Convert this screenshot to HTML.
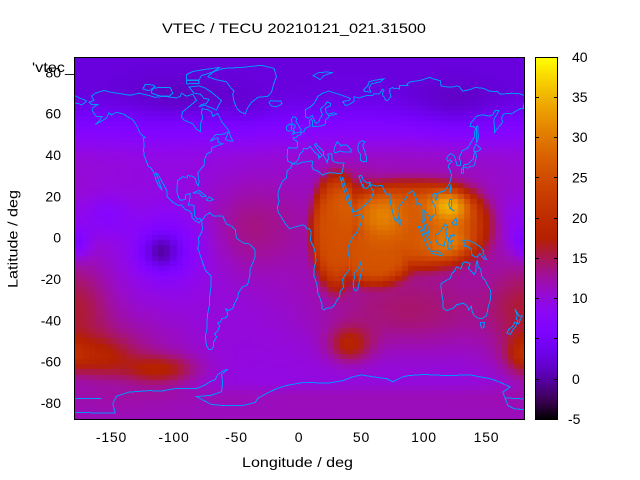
<!DOCTYPE html>
<html><head><meta charset="utf-8">
<style>
html,body{margin:0;padding:0;background:#fff;}
body{width:640px;height:480px;overflow:hidden;position:relative;}
#hm{position:absolute;left:74px;top:57px;background:#8a08ee;}
svg{position:absolute;left:0;top:0;}
.t{font-family:"Liberation Sans",Arial,sans-serif;font-size:14px;fill:#000;}
.c polyline{vector-effect:non-scaling-stroke;fill:none;stroke:#0096ff;stroke-width:1;}
</style></head><body>
<canvas id="hm" width="450" height="362"></canvas>
<svg width="640" height="480" xmlns="http://www.w3.org/2000/svg">
<defs>
<clipPath id="pc"><rect x="74" y="57" width="450" height="362"/></clipPath>
<linearGradient id="cb" x1="0" y1="0" x2="0" y2="1">
<stop offset="0" stop-color="rgb(255,255,0)"/>
<stop offset="0.05" stop-color="rgb(249,219,0)"/>
<stop offset="0.10" stop-color="rgb(242,186,0)"/>
<stop offset="0.15" stop-color="rgb(235,157,0)"/>
<stop offset="0.20" stop-color="rgb(228,131,0)"/>
<stop offset="0.25" stop-color="rgb(221,108,0)"/>
<stop offset="0.30" stop-color="rgb(213,87,0)"/>
<stop offset="0.35" stop-color="rgb(206,70,0)"/>
<stop offset="0.40" stop-color="rgb(198,55,0)"/>
<stop offset="0.45" stop-color="rgb(189,42,0)"/>
<stop offset="0.50" stop-color="rgb(180,32,0)"/>
<stop offset="0.55" stop-color="rgb(171,23,79)"/>
<stop offset="0.60" stop-color="rgb(161,16,150)"/>
<stop offset="0.65" stop-color="rgb(151,11,206)"/>
<stop offset="0.70" stop-color="rgb(140,7,243)"/>
<stop offset="0.75" stop-color="rgb(128,4,255)"/>
<stop offset="0.80" stop-color="rgb(114,2,243)"/>
<stop offset="0.85" stop-color="rgb(99,1,206)"/>
<stop offset="0.90" stop-color="rgb(81,0,150)"/>
<stop offset="0.95" stop-color="rgb(57,0,79)"/>
<stop offset="1" stop-color="rgb(0,0,0)"/>
</linearGradient>
</defs>

<g clip-path="url(#pc)" shape-rendering="crispEdges">
<g class="c" transform="matrix(1.25,0,0,-2.0686,299,238)">
<polyline points="-166,68.5 -163,70 -156,71.3 -150,70.4 -141,69.6 -135,69 -128,70 -120,68.9 -115,68 -108,68.5 -98,67.7 -95,68.5 -94,70 -90,68.5 -85,69.5 -82,66.5 -87,64 -93,61 -94,58.7 -92,57 -85,55.2 -82,52.5 -79,51.5 -79,55 -77,58 -78,60.5 -77.5,62.5 -73,62 -70,61 -69,58.8 -65,60.2 -61.5,56 -57,52.5 -56,51.5 -60,50.2 -66.5,50 -71,46.8 -65,48.5 -64.5,46.2 -61,45.5 -66,44.5 -70,43.5 -70,41.8 -74,40.5 -75.5,38 -76,35 -78,33.8 -81,31.5 -80,27 -80.5,25.2 -82,26.5 -83,29 -85,29.8 -89,30.2 -89.5,29 -93,29.7 -97,27.8 -97.5,25 -97.5,22 -96,19 -94.5,18.2 -91,18.7 -90.5,21 -87,21.5 -87.5,18 -88.5,16 -84,15.8 -83.5,11 -81.5,9 -79.5,9.5 -77.5,8.5 -75,10.8 -71.5,12.3 -70,11.5 -68,10.5 -64,10.7 -61,10.5 -58,6.8 -54,5.7 -51,4 -50,0 -48,-1 -44,-2.5 -40,-2.8 -35.5,-5.3 -35,-9 -37,-12 -39,-15 -39.3,-18 -40.5,-21.5 -42,-23 -45,-23.5 -48.5,-26.5 -48.8,-28.5 -51,-31 -53,-34 -56,-35 -58.5,-34.3 -57,-36.5 -58,-38.5 -62,-39 -62.5,-40.5 -65,-41 -63.5,-42.5 -65,-45 -67.5,-46.3 -65.8,-47.8 -68.5,-50.5 -68.5,-52.5 -70,-54 -72,-54 -74,-52 -75,-48 -73.7,-44 -73.5,-40 -73.2,-37 -71.5,-32 -71.4,-28 -70.5,-23.5 -70.2,-18.5 -75,-15.5 -77,-12 -79.5,-7.5 -81,-5 -80,-2 -80.5,0 -78.5,2 -77.3,4 -77.5,7 -78.5,8.5 -80,7.3 -83,8.3 -85.7,10 -85.7,11.5 -87.5,13 -91.5,14 -94,16 -96.5,15.7 -101,17.3 -105.5,20 -105.5,22.5 -108,25.5 -112.5,30.5 -114.8,31.7 -113,29 -110,24 -109.5,23.2 -112,25 -114.5,28 -115.2,30 -117,32.5 -118.5,34 -120.6,34.6 -122,37 -123.8,39.8 -124.3,42 -124,46 -124.7,48.4 -123,48.5 -127,50.5 -130,54.5 -133.5,57.5 -137,58.5 -140,59.8 -146,60.8 -150,59.5 -152,60.5 -154,58 -158,56.5 -163,54.8 -160,56.5 -157.5,58.8 -162,58.8 -164.5,60.5 -165.5,62 -164.5,63.2 -161,64.5 -166,64.6 -168,65.6 -164,66.5 -166,68.5"/>
<polyline points="-73,78 -68,80.5 -60,82 -45,82.5 -30,83.5 -20,82 -18,78 -20,75 -22,70.5 -25,68.5 -33,68 -38,65.5 -41,63 -43,60 -47,61 -50,63 -52,66 -53,69.5 -52,71 -55,73 -58,75.5 -66,76.5 -73,78"/>
<polyline points="-80,63.5 -75,64.2 -66,61.8 -64,64.5 -62,66.5 -67,69 -70,70.5 -75,72.5 -80,73.5 -88,73 -84,70 -79,69.5 -76,67.5 -72,67 -74,65 -78,64.5 -80,63.5"/>
<polyline points="-118,70 -112,68.8 -104,68.5 -101,70 -103,72.8 -110,72.8 -116,72.5 -118,71 -118,70"/>
<polyline points="-80,76.5 -90,76.5 -90,79 -85,80.5 -75,81.5 -63,82.5 -70,80 -78,78.5 -80,76.5"/>
<polyline points="-125,72 -123,74.3 -117,74 -115,73.2 -120,71.2 -125,72"/>
<polyline points="-90,74.5 -80,74.8 -80,76 -90,76.2 -90,74.5"/>
<polyline points="-59,47.6 -56,51.6 -55,49.5 -53,47 -56,47 -59,47.6"/>
<polyline points="-85,21.8 -80,23 -77,21.5 -74.2,20.2 -77.5,19.9 -80,21.8 -85,21.8"/>
<polyline points="-74.4,18.4 -72,19.9 -68.5,18.6 -71.5,17.8 -74.4,18.4"/>
<polyline points="-9,43 -9.5,39 -8.8,37 -6,36.5 -5,36 -2,36.8 0,38.8 0.5,40.5 3.2,42 3.5,43.3 6.5,43.1 9,44.3 10.5,43 12.5,41.5 15.5,40 16,38 15.7,40 17,39 18.5,40 17,41 13.5,44 12.3,45.3 13.7,45.7 15,44.5 19.5,41.8 19.5,40 21,38.5 22.5,36.5 23,38 24,38.2 23,40.5 26,40.8 26.5,40 26.3,38.5 27.5,37 28.5,36.7 32,36.2 35.9,36.2 35,33 34.3,31.3 32.3,31.2 30,31.3 25,31.6 20,30.9 19,30.3 15.2,32.3 11.5,33.1 10.3,34.5 11,37 9.8,37.3 8,36.9 3,36.8 -1,35.7 -5.5,35.8 -6.5,34 -9.5,32.5 -10,29 -13,27.6 -16,23.5 -17,21 -16,18 -17.2,14.8 -16.7,12.5 -15,11 -13.5,9.5 -11,7 -7.5,4.4 -4,5.2 1,6 3,6.3 5,5.8 6.5,4.3 8.5,4.5 9.6,3 9.5,1 9,-1 11,-3.5 12,-5 13,-7 13.5,-11 12,-15 11.8,-18 14.4,-22.5 15,-26.5 16.5,-28.6 18.2,-31.5 18.4,-34 20,-34.8 22.5,-33.9 25.8,-33.8 28,-32.7 30.5,-30 32.5,-28.5 32.8,-26 35.5,-24 35.3,-22 34.8,-20 36.8,-18 40.5,-15 40.6,-10.5 39.3,-7 39.2,-4.6 41,-2 43.5,0.8 46,2.5 49,6 51,10.5 49,11.3 44,10.5 43.3,12 42,15 40.5,16 38.5,18 37.3,21 35.5,24 34,27 32.6,29.9 33.5,28 34.3,27.8 34.9,29.5 36.5,26 39,21.5 41.5,16.5 43,13 45,12.8 49,14 52,15.5 55,17.3 57.8,19 59.8,22.5 58.5,23.6 56.4,26.2 56,24.8 54,24 51.6,24.2 51.2,26 50.8,25 50.2,26 48.5,29 48,30 50,30.2 51.5,27.9 54.7,26.5 56.5,27.1 57.3,25.8 61.5,25.1 66.5,25.4 67.5,24 68.8,22.3 70.5,21 72.8,21.3 72.8,19 73.5,16 74.8,12.8 76.3,9.5 77.5,8 78.3,8.9 79.9,10.3 80.3,13 80,15.1 82,16.5 84,18.3 86.5,20 87,21.5 89,22 90.5,22.8 91.8,22.2 92.7,20.5 94.5,18 94.3,16 96,16.8 97.6,16 98.5,13.1 98.3,10.5 98.5,8 100.3,6 100.8,3.5 103.5,1.3 104.2,1.4 103.4,3.5 103.3,5.5 101.4,6.9 100,9.5 100,13.3 101,12.7 102.5,12 103,11 104.7,10.5 105,8.6 106.7,10.3 109,11.5 109.4,13 108.8,15.5 106.6,17.5 105.7,19 106.7,20.7 108,21.5 109.8,21.4 110.5,20.4 111,21.5 113.2,22.2 116,22.8 118.6,24.5 120,26 121.5,28.3 122,30.5 121,32.5 119.3,34.5 120.7,36.2 122.5,37 121,37.8 119,37.1 118,38.5 119.5,39.8 121.5,40.9 124,39.8 125.3,37.8 126.5,35 129,35.1 129.4,37 128,38.5 129.7,41 130.8,42.3 133,42.8 135.5,43.9 138.2,46.8 140.3,48.8 140.5,51.2 141.4,53 139,54 137,54 137.3,55.4 141.5,58.6 143.5,59.3 148,59.4 152,59 155,59.5 157,61.7 160,61.5 156,57.5 156.5,51 158.5,52.8 161.8,55 163,56.2 162,57.8 163.5,59.8 166,60.3 170,60 172.5,61 177,62.5 179.5,62.6 180,65.3"/>
<polyline points="180,68.9 176,69.8 170,70 161,69.5 159,70.8 152,71 148,72.3 141,72.8 136,71.6 131,71 129,72.5 128.5,73.2 126,73.5 123,73 119,73 113.5,73.5 113.3,76 107,77 104.5,77.7 99,76.5 95,76 89,75.5 86.5,74.5 87,73.8 80.5,73.6 80.5,72 78,72.4 75.6,72.3 75,72.8 72.8,72.2 72.5,71 73.5,68.4 71,66.5 69,66.7 68.5,68 67,68.8 66.7,70 68,71.3 67,72 64,69.5 60.5,69.8 58.5,68.8 53.7,68.8 48,67.7 44,68.3 44,66 40,64.5 37,64 35,66 40,66.5 41,67.5 38,68.2 33,69.3 29,70 24,71 19,70 15,68.5 14,67 12.5,65.5 10.5,64 8,63 5,62 5,60 5.5,58.5 7,58 8.5,58.2 10.5,59.3 11,58.8 11.8,57.5 12.8,56 14.1,55.4 16,56.2 16.5,57.4 18.8,59.6 17.8,61 17.2,62.3 21,64.5 22.5,65.8 25.3,65.1 25.3,64 21.3,62.8 21.5,61 23,59.8 28,60.5 30,60 28,59.5 23.5,59.2 24,58.3 22,57.5 21,56.8 21.2,55.2 19.5,54.4 14.2,53.9 11,54 10.9,56.4 9.8,57.6 8.2,56.8 8.5,55.5 8.9,54 7,53.5 5,53 4,51.5 2,51 1.5,50 -1.2,49.4 -1.9,48.7 -4.6,48.6 -4.3,47.8 -2,47 -1.2,46 -1.4,44 -1.8,43.4 -4,43.4 -8,43.7 -9,43"/>
<polyline points="-180,65.3 -176,64.9 -174,64.3 -172.5,65 -171,65.5 -170,66.2 -172,66.9 -175,67.5 -178,68.4 -180,68.9"/>
<polyline points="28,41.5 29,41.2 33,42 36,41.6 41.5,41.5 41.7,42.6 39,44.6 37.5,45 35,45 33.5,44.5 32.5,45.4 30.5,46.5 29.6,45.3 28.7,44.3 28,42.5 28,41.5"/>
<polyline points="47,43 48,41.5 49.5,40.2 49,38.5 49,37.6 51.5,36.8 54,37 53.9,39.5 53,40.8 52.8,41.8 51,44.5 51.5,45.5 53,46.5 51,47 49,46.5 47.5,45.5 47,43"/>
<polyline points="-5.7,50 -3,50.7 1.3,51.2 1.7,52.7 0.3,53.4 -0.2,54.5 -1.6,55.6 -2.5,56.3 -1.8,57.6 -3.1,58.6 -5,58.6 -6.2,57 -5.5,55.5 -4.8,54.8 -3.3,54.6 -3,53.3 -4.5,53.2 -4.3,52.3 -5.2,51.7 -3.5,51.4 -5.7,50"/>
<polyline points="-6,52.2 -6.2,53.9 -5.7,54.6 -7.3,55.3 -8.5,54.6 -10,54 -10,52.2 -8,51.6 -6,52.2"/>
<polyline points="-22.5,64 -24,65.5 -22.5,66.4 -17,66.2 -14.5,66.2 -13.7,65 -15,64.3 -18.7,63.4 -22.5,64"/>
<polyline points="11,78.5 16,80 22,80.2 27,80 20,78.5 17,76.6 13,78 11,78.5"/>
<polyline points="51.5,71.5 55,73.5 56,75.5 61,76.3 68,77 65,75.5 58,74.5 56,72.5 57.5,70.6 53,70.8 51.5,71.5"/>
<polyline points="130.9,33.9 132,35.4 135.5,35.7 137,37 139.5,38.2 140,40.5 141.3,41.3 142,39.5 141,37 140.8,35.7 139.5,34.8 137,34.6 135,33.7 133,34.3 130.9,33.9"/>
<polyline points="129.8,33.3 131.7,33.6 131.4,31.4 130.2,31.2 129.8,33.3"/>
<polyline points="140,41.5 140,43.2 141.5,45.4 143,44.5 145.5,43.3 143.5,42 141,41.8 140,41.5"/>
<polyline points="142,46 142,49 142.2,54 143,54.2 143.5,49 142.8,46.8 142,46"/>
<polyline points="120.2,22.5 121.5,25.3 121.9,24.5 120.8,22 120.2,22.5"/>
<polyline points="108.7,19.5 110.5,20.1 111,19.5 109.5,18.2 108.7,19.5"/>
<polyline points="79.8,8 80.2,9.8 81.8,7.5 80.5,6 79.8,8"/>
<polyline points="44,-25 43.3,-22 44.4,-19 44,-17 46.3,-15.8 48,-14 49.3,-12 50.5,-15.5 49.5,-17.5 48.5,-20.5 47,-25 45,-25.5 44,-25"/>
<polyline points="95.3,5.5 97.5,5.2 100.5,2 104,-1 106,-3.1 105.8,-5.8 104.5,-5.9 102.5,-4 100.1,-0.6 98.6,1.8 95.3,5.5"/>
<polyline points="105.2,-6.8 108.5,-6.4 111,-6.4 112.6,-6.9 114.5,-7.8 114.5,-8.7 110.5,-8.1 106.5,-7.4 105.2,-6.8"/>
<polyline points="109,1.5 111,1.8 113,3.2 115.5,5.4 117,7 119,5.3 118,4.3 117.5,3 118.5,1 117.5,-0.5 116.5,-2.5 116,-4 114.5,-3.5 111.5,-3 110,-1.7 109,0 109,1.5"/>
<polyline points="119.5,-5.5 119,-3.5 119.8,0 120.9,1.3 124.8,1.5 121,0.4 120,-1 121.5,-1.9 123.3,-1 121.3,-2.5 122.5,-4.7 120.5,-5.5 119.5,-5.5"/>
<polyline points="120.6,18.5 122.2,18.5 122,16 121.6,14.3 124,13 123,13.5 120.8,14.3 119.9,16 120.6,18.5"/>
<polyline points="122,7 124,8.2 125.5,9.7 126.5,7 125.5,6 124,6.5 122,7"/>
<polyline points="131,-1.3 134,-1 138,-1.7 141,-2.6 145,-4.3 147.6,-6 147.2,-7.4 150,-10.3 148,-10.1 144.7,-7.6 142.5,-9.3 141,-9.1 138.5,-8.4 137.5,-5 134,-3.9 132.4,-4 133,-2.5 131,-1.3"/>
<polyline points="113.4,-22 114,-26 115,-30 115,-33.7 117.8,-35.1 123.6,-33.9 126,-32.3 131.3,-31.5 134.3,-32.7 135.9,-34.8 137.8,-32.9 138.5,-35.5 140,-37.4 143.5,-38.8 146.3,-39 150,-37.5 151.5,-33 153,-30 153.5,-27 153,-25 150.5,-22.5 149,-20.5 146.3,-18.8 145.3,-15 143.5,-14 142.5,-10.7 141.7,-13 141.5,-16 140,-17.7 137.8,-16 135.5,-14.7 136.8,-12.3 132.6,-11.5 131,-12.2 129.5,-14.9 126,-14 124,-16.3 122.2,-17.2 121,-19.5 117.3,-20.7 114.6,-21.8 113.4,-22"/>
<polyline points="145,-40.8 148.3,-40.9 148,-43.2 146.5,-43.6 145,-42 145,-40.8"/>
<polyline points="172.7,-34.4 174.6,-36.2 176,-37.6 178.5,-37.7 177,-39.3 176,-41.3 174.6,-41.3 175,-39.8 173.8,-39.2 174.6,-37.3 172.7,-34.4"/>
<polyline points="172.8,-40.5 174.3,-41.3 173.2,-43 171,-44.5 169,-46.6 166.5,-46 167.7,-44.2 170.6,-43 172.8,-40.5"/>
<polyline points="-180,-84.4 -147,-84.6 -149,-80 -146,-76.5 -136,-74.5 -120,-73.8 -110,-74 -98,-72.7 -82,-72.8 -75,-71 -71,-69.4 -67,-68.5 -65,-66 -60,-64 -57,-63.5 -62,-66 -61,-70 -62,-74.3 -70,-76 -82,-76.7 -70,-80.5 -60,-81 -45,-81 -35,-79.5 -33,-77.5 -27,-75.5 -18,-72.8 -10,-71.3 3.5,-69.8 15,-70 25,-70 35,-69 43.5,-67 50,-66.2 60,-67.2 70,-68 75,-69.5 83.5,-67 88,-66.5 100,-66 118,-66.5 137,-66.2 142,-66.8 153,-68 160,-69.5 169,-72 163,-74.5 165,-77.5 167,-81 172,-82.5 180,-83"/>
<polyline points="-180,-77.5 -158,-77.5"/>
<polyline points="165,-77.3 180,-77.8"/>
</g>
</g>

<rect x="74.5" y="57.5" width="450" height="362" fill="none" stroke="#000" stroke-width="1"/>

<rect x="535.5" y="57.5" width="22" height="362" fill="url(#cb)" stroke="#000" stroke-width="1"/>
<g stroke="#000" stroke-width="1">
<path d="M536 97.5h3M554 97.5h3M536 137.5h3M554 137.5h3M536 177.5h3M554 177.5h3M536 218.5h3M554 218.5h3M536 258.5h3M554 258.5h3M536 298.5h3M554 298.5h3M536 338.5h3M554 338.5h3M536 379.5h3M554 379.5h3"/>
</g>

<text class="t" x="162" y="33" textLength="264" lengthAdjust="spacingAndGlyphs">VTEC / TECU 20210121_021.31500</text>

<text class="t" x="32" y="72" textLength="42" lengthAdjust="spacingAndGlyphs">'vtec_</text>

<g class="t" text-anchor="end">
<text x="61" y="77.5">80</text>
<text x="61" y="118.5">60</text>
<text x="61" y="160">40</text>
<text x="61" y="201.5">20</text>
<text x="61" y="242.5">0</text>
<text x="61" y="284">-20</text>
<text x="61" y="325.5">-40</text>
<text x="61" y="366.5">-60</text>
<text x="61" y="408">-80</text>
</g>

<g class="t" text-anchor="middle" letter-spacing="0.8">
<text x="111.5" y="442">-150</text>
<text x="174" y="442">-100</text>
<text x="236.5" y="442">-50</text>
<text x="299" y="442">0</text>
<text x="361.5" y="442">50</text>
<text x="424" y="442">100</text>
<text x="486.5" y="442">150</text>
</g>

<text class="t" x="242" y="467" textLength="111" lengthAdjust="spacingAndGlyphs">Longitude / deg</text>
<text class="t" transform="translate(17.5,288) rotate(-90)" x="0" y="0" textLength="98" lengthAdjust="spacingAndGlyphs">Latitude / deg</text>

<g class="t">
<text x="572" y="62">40</text>
<text x="572" y="102">35</text>
<text x="572" y="142">30</text>
<text x="572" y="182.5">25</text>
<text x="572" y="223">20</text>
<text x="572" y="263">15</text>
<text x="572" y="303">10</text>
<text x="572" y="343.5">5</text>
<text x="572" y="384">0</text>
<text x="568" y="424">-5</text>
</g>
</svg>
<script>
(function(){
var c=document.getElementById('hm');if(!c||!c.getContext)return;var ctx=c.getContext('2d');
function G(lon,lat,cx,cy,sx,sy,A){var dx=lon-cx;if(dx>180)dx-=360;if(dx<-180)dx+=360;var dy=lat-cy;return A*Math.exp(-0.5*((dx/sx)*(dx/sx)+(dy/sy)*(dy/sy)));}
function P(lon,lat,cx,cy,a,b){var dx=(lon-cx)/a,dy=(lat-cy)/b;var r=dx*dx+dy*dy;return Math.exp(-r*r*r);}
function ss(e0,e1,x){var t=(x-e0)/(e1-e0);t=Math.max(0,Math.min(1,t));return t*t*(3-2*t);}
function f(lon,lat){
 var v=9.5;
 v-=7*ss(35,72,lat);
 v+=G(lon,lat,-95,66,30,8,-1.5)+G(lon,lat,125,62,25,9,-2)+G(lon,lat,-40,60,15,6,-1);
 v+=G(lon,lat,-110,-7,10,6,-6)+G(lon,lat,-105,-5,22,12,-4);
 v+=G(lon,lat,-178,-3,8,5,-5);
 v+=G(lon,lat,-155,10,14,7,-3);
 v+=G(lon,lat,172,8,10,8,-2);
 var b=Math.max(P(lon,lat,90,6,62,21),P(lon,lat,30,3,20,28),P(lon,lat,60,-8,35,15));
 v+=13*b;
 v+=G(lon,lat,122,16,13,6,11)+G(lon,lat,124,-4,14,6,6)+G(lon,lat,68,11,12,8,5)+G(lon,lat,45,20,12,8,3);
 v+=G(lon,lat,80,0,80,32,3.5);
 v+=G(lon,lat,-40,5,25,15,3);
 v+=G(lon,lat,-162,-58,20,7,5.5)+G(lon,lat,-110,-64,20,5,6.5)+G(lon,lat,-140,-55,40,14,3)+G(lon,lat,-178,-33,20,14,4.5);
 v+=G(lon,lat,41,-52,12,6,7)+G(lon,lat,178,-56,8,6,4);
 v+=G(lon,lat,90,-38,50,12,3);
 v+=2*ss(-68,-78,lat);
 return v;
}
function col(v){var x=(v+5)/45;x=Math.max(0,Math.min(1,x));var r=Math.sqrt(x),g=x*x*x,bb=Math.max(0,Math.sin(2*Math.PI*x));
 return 'rgb('+Math.round(r*255)+','+Math.round(g*255)+','+Math.round(bb*255)+')';}
var sy=362/175;
for(var i=0;i<=72;i++){var lon=-180+5*i;var x0=(lon+180)*1.25-3.125;
 for(var j=0;j<=70;j++){var lat=87.5-2.5*j;var y0=(87.5-lat)*sy-2.5*sy/2;
  ctx.fillStyle=col(f(lon,lat));
  var xa=Math.floor(x0),ya=Math.floor(y0);
  ctx.fillRect(xa,ya,Math.ceil(x0+6.25)-xa,Math.ceil(y0+2.5*sy)-ya);}}
})();
</script>
</body></html>
